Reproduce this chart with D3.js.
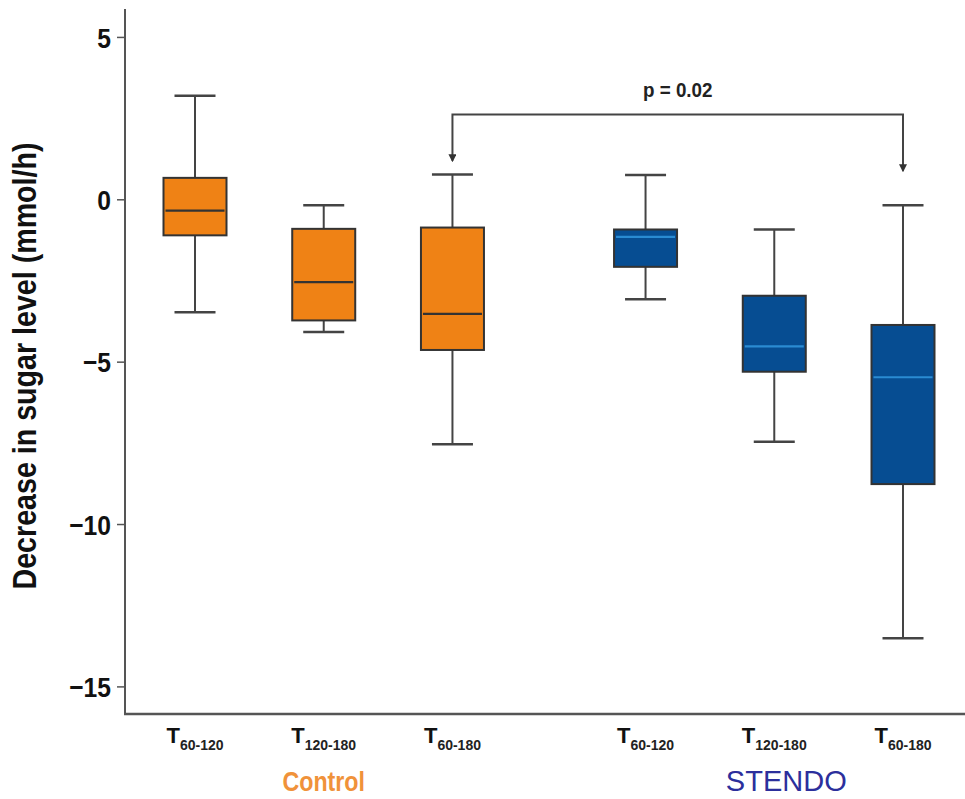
<!DOCTYPE html>
<html>
<head>
<meta charset="utf-8">
<script src="https://cdn.jsdelivr.net/npm/d3@7"></script>
<style>
  body { margin: 0; background: #fff; }
  text { font-family: "Liberation Sans", Arial, sans-serif; }
</style>
</head>
<body>
<div id="chart"></div>
<script>
// groups and periods
const groups = ["Control", "STENDO"];
const periods = ["60-120", "120-180", "60-180"];

// box stats per group, in period order (mmol/h)
const controlLow    = [-3.48, -4.09, -7.54];
const controlQ1     = [-1.11, -3.73, -4.64];
const controlMedian = [-0.35, -2.55, -3.53];
const controlQ3     = [ 0.66, -0.91, -0.87];
const controlHigh   = [ 3.19, -0.18,  0.76];

const stendoLow     = [-3.08, -7.47, -13.52];
const stendoQ1      = [-2.08, -5.31, -8.77];
const stendoMedian  = [-1.16, -4.53, -5.48];
const stendoQ3      = [-0.93, -2.97, -3.87];
const stendoHigh    = [ 0.75, -0.93, -0.18];

const yTicks = [5, 0, -5, -10, -15];
const pLabel = "p = 0.02";
const bracketTop = 2.61;
const bracketEnds = [1.19, 0.88];

const width = 965, height = 799;
const colors = { Control: "#ef8215", STENDO: "#064d92" };
const medianColors = { Control: "#333333", STENDO: "#2a8bd2" };
const labelColors = { Control: "#f0923a", STENDO: "#2c2f9c" };

const boxes = [];
groups.forEach((g, gi) => {
  const src = gi === 0
    ? [controlLow, controlQ1, controlMedian, controlQ3, controlHigh]
    : [stendoLow, stendoQ1, stendoMedian, stendoQ3, stendoHigh];
  periods.forEach((p, pi) => {
    boxes.push({
      group: g, period: p, slot: gi * 3.5 + pi,
      low: src[0][pi], q1: src[1][pi], median: src[2][pi], q3: src[3][pi], high: src[4][pi]
    });
  });
});

const svg = d3.select("#chart").append("svg")
  .attr("width", width)
  .attr("height", height);

const x = d3.scaleLinear().domain([0, 5.5]).range([195, 903]);
const y = d3.scaleLinear().domain([-15.85, 5.86]).range([714, 9]);

const boxW = 63, capW = 41;

// squeeze text horizontally to mimic the narrow bold face
function squeeze(sel, k) {
  sel.each(function () {
    const len = this.getComputedTextLength();
    d3.select(this).attr("textLength", len * k).attr("lengthAdjust", "spacingAndGlyphs");
  });
}

// y axis
const yAxis = svg.append("g")
  .attr("transform", "translate(125,0)")
  .call(d3.axisLeft(y).tickValues(yTicks).tickSize(8).tickPadding(6).tickFormat(d => d < 0 ? "\u2212" + Math.abs(d) : d));
yAxis.select(".domain").attr("stroke", "#555").attr("stroke-width", 2).attr("d", `M0,${y.range()[1]}V${y.range()[0]}`);
yAxis.selectAll(".tick line").attr("stroke", "#555").attr("stroke-width", 1.5);
yAxis.selectAll(".tick text")
  .attr("fill", "#111")
  .attr("font-size", 28)
  .attr("font-weight", "bold")
  .attr("dy", "0.36em")
  .call(squeeze, 0.88);

// x axis line
svg.append("line")
  .attr("x1", 124).attr("x2", width)
  .attr("y1", y.range()[0]).attr("y2", y.range()[0])
  .attr("stroke", "#555").attr("stroke-width", 2.5);

// y title
svg.append("text")
  .attr("transform", `translate(36,366) rotate(-90)`)
  .attr("text-anchor", "middle")
  .attr("font-size", 33)
  .attr("font-weight", "bold")
  .attr("fill", "#111")
  .text("Decrease in sugar level (mmol/h)")
  .attr("textLength", 447)
  .attr("lengthAdjust", "spacingAndGlyphs");

// boxes
const bx = svg.append("g").selectAll("g")
  .data(boxes)
  .enter()
  .append("g");

bx.append("line")
  .attr("x1", d => x(d.slot)).attr("x2", d => x(d.slot))
  .attr("y1", d => y(d.high)).attr("y2", d => y(d.low))
  .attr("stroke", "#444").attr("stroke-width", 2);

bx.selectAll(".cap")
  .data(d => [{ s: d.slot, v: d.high }, { s: d.slot, v: d.low }])
  .enter()
  .append("line")
  .attr("class", "cap")
  .attr("x1", d => x(d.s) - capW / 2).attr("x2", d => x(d.s) + capW / 2)
  .attr("y1", d => y(d.v)).attr("y2", d => y(d.v))
  .attr("stroke", "#444").attr("stroke-width", 2.5);

bx.append("rect")
  .attr("x", d => x(d.slot) - boxW / 2)
  .attr("y", d => y(d.q3))
  .attr("width", boxW)
  .attr("height", d => y(d.q1) - y(d.q3))
  .attr("fill", d => colors[d.group])
  .attr("stroke", "#333").attr("stroke-width", 2);

bx.append("line")
  .attr("x1", d => x(d.slot) - boxW / 2 + 2).attr("x2", d => x(d.slot) + boxW / 2 - 2)
  .attr("y1", d => y(d.median)).attr("y2", d => y(d.median))
  .attr("stroke", d => medianColors[d.group]).attr("stroke-width", 2.2);

// x tick labels T with subscript
const lbl = svg.append("g").selectAll("text")
  .data(boxes)
  .enter()
  .append("text")
  .attr("x", d => x(d.slot))
  .attr("y", 743)
  .attr("text-anchor", "middle")
  .attr("font-weight", "bold")
  .attr("fill", "#111");
lbl.append("tspan").attr("font-size", 22).text("T");
lbl.append("tspan").attr("font-size", 14).attr("dy", 7).attr("fill", "#222").text(d => d.period);

// group labels
svg.append("g").selectAll("text")
  .data(groups)
  .enter()
  .append("text")
  .attr("x", (d, i) => i === 0 ? x(1) : x(4.5) + 12)
  .attr("y", 791)
  .attr("text-anchor", "middle")
  .attr("font-size", d => d === "Control" ? 27 : 29)
  .attr("font-weight", d => d === "Control" ? "bold" : "normal")
  .attr("fill", d => labelColors[d])
  .text(d => d)
  .each(function (d) {
    if (d === "Control") squeeze(d3.select(this), 0.86);
  });

// significance bracket
svg.append("defs").append("marker")
  .attr("id", "arrow")
  .attr("viewBox", "0 0 10 10")
  .attr("refX", 8).attr("refY", 5)
  .attr("markerWidth", 4).attr("markerHeight", 4)
  .attr("orient", "auto-start-reverse")
  .append("path")
  .attr("d", "M0,0L10,5L0,10Z")
  .attr("fill", "#333");

const bl = x(2), br = x(5.5);
svg.append("path")
  .attr("d", `M${bl},${y(bracketEnds[0])}V${y(bracketTop)}H${br}V${y(bracketEnds[1])}`)
  .attr("fill", "none")
  .attr("stroke", "#444").attr("stroke-width", 2)
  .attr("marker-start", "url(#arrow)")
  .attr("marker-end", "url(#arrow)");

svg.append("text")
  .attr("x", (bl + br) / 2)
  .attr("y", 97)
  .attr("text-anchor", "middle")
  .attr("font-size", 20)
  .attr("font-weight", "bold")
  .attr("fill", "#222")
  .text(pLabel)
  .call(squeeze, 0.94);
</script>
</body>
</html>
